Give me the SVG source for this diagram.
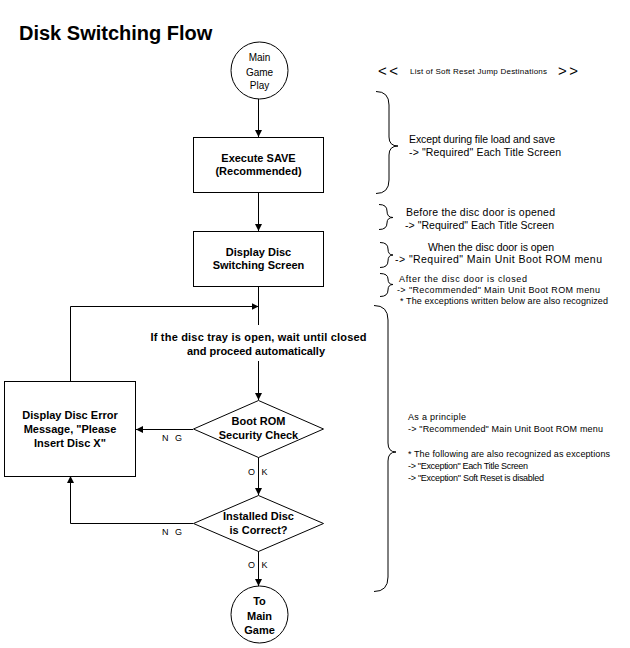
<svg xmlns="http://www.w3.org/2000/svg" width="630" height="648" viewBox="0 0 630 648">
<style>
  .shape { fill: #fff; stroke: #000; stroke-width: 1; }
  .line { fill: none; stroke: #000; stroke-width: 1; }
  .brace { fill: none; stroke: #000; stroke-width: 1; }
  .b { font-family: "Liberation Sans", Arial, sans-serif; font-size: 11px; font-weight: bold; fill: #000; text-anchor: middle; }
  .r { font-family: "Liberation Sans", Arial, sans-serif; font-size: 10.5px; fill: #000; }
  .s { font-family: "Liberation Sans", Arial, sans-serif; font-size: 9px; fill: #000; }
  .lbl { font-family: "Liberation Sans", Arial, sans-serif; font-size: 9px; fill: #000; letter-spacing: 2px; }
  .title { font-family: "Liberation Sans", Arial, sans-serif; font-size: 20px; font-weight: bold; fill: #000; }
  .hd { font-family: "Liberation Sans", Arial, sans-serif; font-size: 15px; fill: #000; }
</style>
<defs>
  <marker id="arrow" markerUnits="userSpaceOnUse" markerWidth="8" markerHeight="8" refX="7" refY="4" orient="auto">
    <path d="M0,0.5 L7,4 L0,7.5 z" fill="#000"/>
  </marker>
</defs>
<rect width="630" height="648" fill="#fff"/>

<text class="title" x="19" y="40">Disk Switching Flow</text>

<g id="header">
  <text class="hd" x="378" y="76" textLength="20">&lt;&lt;</text>
  <text x="410" y="74" textLength="137" style="font-family:'Liberation Sans',Arial,sans-serif;font-size:8px">List of Soft Reset Jump Destinations</text>
  <text class="hd" x="558" y="76" textLength="20">&gt;&gt;</text>
</g>

<g id="connectors">
  <line class="line" x1="258.5" y1="99" x2="258.5" y2="137" marker-end="url(#arrow)"/>
  <line class="line" x1="258.5" y1="193" x2="258.5" y2="231" marker-end="url(#arrow)"/>
  <line class="line" x1="258.5" y1="286" x2="258.5" y2="325"/>
  <line class="line" x1="258.5" y1="361" x2="258.5" y2="400" marker-end="url(#arrow)"/>
  <line class="line" x1="258.5" y1="457" x2="258.5" y2="495" marker-end="url(#arrow)"/>
  <line class="line" x1="258.5" y1="551" x2="258.5" y2="586" marker-end="url(#arrow)"/>
  <line class="line" x1="193" y1="429.5" x2="136" y2="429.5" marker-end="url(#arrow)"/>
  <polyline class="line" points="193,523.5 70.5,523.5 70.5,476" marker-end="url(#arrow)"/>
  <polyline class="line" points="70.5,381 70.5,306.5 258.5,306.5" marker-end="url(#arrow)"/>
  <text class="lbl" x="162" y="441">N G</text>
  <text class="lbl" x="162" y="535">N G</text>
  <text class="lbl" x="248" y="475">O K</text>
  <text class="lbl" x="248" y="568">O K</text>
</g>

<g id="start">
  <circle class="shape" cx="259.5" cy="70.5" r="28.5"/>
  <text class="r" x="259.5" y="61" text-anchor="middle" style="font-size:10px">Main</text>
  <text class="r" x="259.5" y="75.5" text-anchor="middle" style="font-size:10px">Game</text>
  <text class="r" x="259.5" y="89" text-anchor="middle" style="font-size:10px">Play</text>
</g>

<g id="save">
  <rect class="shape" x="193.5" y="137.5" width="130" height="55"/>
  <text class="b" x="258.5" y="162">Execute SAVE</text>
  <text class="b" x="258.5" y="175">(Recommended)</text>
</g>

<g id="switching">
  <rect class="shape" x="193.5" y="231.5" width="130" height="55"/>
  <text class="b" x="258.5" y="256">Display Disc</text>
  <text class="b" x="258.5" y="269">Switching Screen</text>
</g>

<g id="wait">
  <text class="b" x="258.5" y="341" textLength="216">If the disc tray is open, wait until closed</text>
  <text class="b" x="256" y="355" textLength="138">and proceed automatically</text>
</g>

<g id="error">
  <rect class="shape" x="4.5" y="381.5" width="131" height="95"/>
  <text class="b" x="70" y="419">Display Disc Error</text>
  <text class="b" x="70" y="433">Message, "Please</text>
  <text class="b" x="70" y="447">Insert Disc X"</text>
</g>

<g id="security">
  <polygon class="shape" points="258.5,400.5 323.5,429 258.5,457.5 193.5,429"/>
  <text class="b" x="258.5" y="425">Boot ROM</text>
  <text class="b" x="258.5" y="439">Security Check</text>
</g>

<g id="correct">
  <polygon class="shape" points="258.5,495.5 323.5,523.5 258.5,551.5 193.5,523.5"/>
  <text class="b" x="258.5" y="520">Installed Disc</text>
  <text class="b" x="258.5" y="534">is Correct?</text>
</g>

<g id="end">
  <circle class="shape" cx="259.5" cy="614.5" r="28.5"/>
  <text class="b" x="259.5" y="605">To</text>
  <text class="b" x="259.5" y="620">Main</text>
  <text class="b" x="259.5" y="634">Game</text>
</g>

<g id="notes">
  <path class="brace" d="M376,91.5 Q389,91.5 389,105 L389,137 Q389,146 398,146 Q389,146 389,155 L389,180 Q389,193.5 376,193.5"/>
  <text class="r" x="409" y="143" textLength="146">Except during file load and save</text>
  <text class="r" x="409" y="156" textLength="152">-&gt; "Required" Each Title Screen</text>

  <path class="brace" d="M379,204.5 Q387,204.5 387,211 Q387,217.5 393,217.5 Q387,217.5 387,223 Q387,229.5 379,229.5"/>
  <text class="r" x="406" y="216" textLength="149">Before the disc door is opened</text>
  <text class="r" x="405" y="229" textLength="149">-&gt; "Required" Each Title Screen</text>

  <path class="brace" d="M380,242.5 Q388,242.5 388,249 Q388,255 393,255 Q388,255 388,261 Q388,267.5 380,267.5"/>
  <text class="r" x="428" y="251" textLength="126">When the disc door is open</text>
  <text class="r" x="395" y="263" textLength="207">-&gt; "Required" Main Unit Boot ROM menu</text>

  <path class="brace" d="M380,273.5 Q388,273.5 388,279 Q388,284.5 393,284.5 Q388,284.5 388,290 Q388,296.5 380,296.5"/>
  <text class="s" x="399" y="282" textLength="128">After the disc door is closed</text>
  <text class="s" x="397" y="293" textLength="203">-&gt; "Recommended" Main Unit Boot ROM menu</text>
  <text class="s" x="400" y="304" textLength="208">* The exceptions written below are also recognized</text>

  <path class="brace" d="M374,305.5 Q388,305.5 388,320 L388,443 Q388,452 396,452 Q388,452 388,461 L388,577 Q388,591.5 374,591.5"/>
  <text class="s" x="408" y="420" textLength="58">As a principle</text>
  <text class="s" x="408" y="432" textLength="195">-&gt; "Recommended" Main Unit Boot ROM menu</text>
  <text class="s" x="408" y="457" textLength="202">* The following are also recognized as exceptions</text>
  <text class="s" x="408" y="469" textLength="120">-&gt; "Exception" Each Title Screen</text>
  <text class="s" x="408" y="481" textLength="136">-&gt; "Exception" Soft Reset is disabled</text>
</g>
</svg>
